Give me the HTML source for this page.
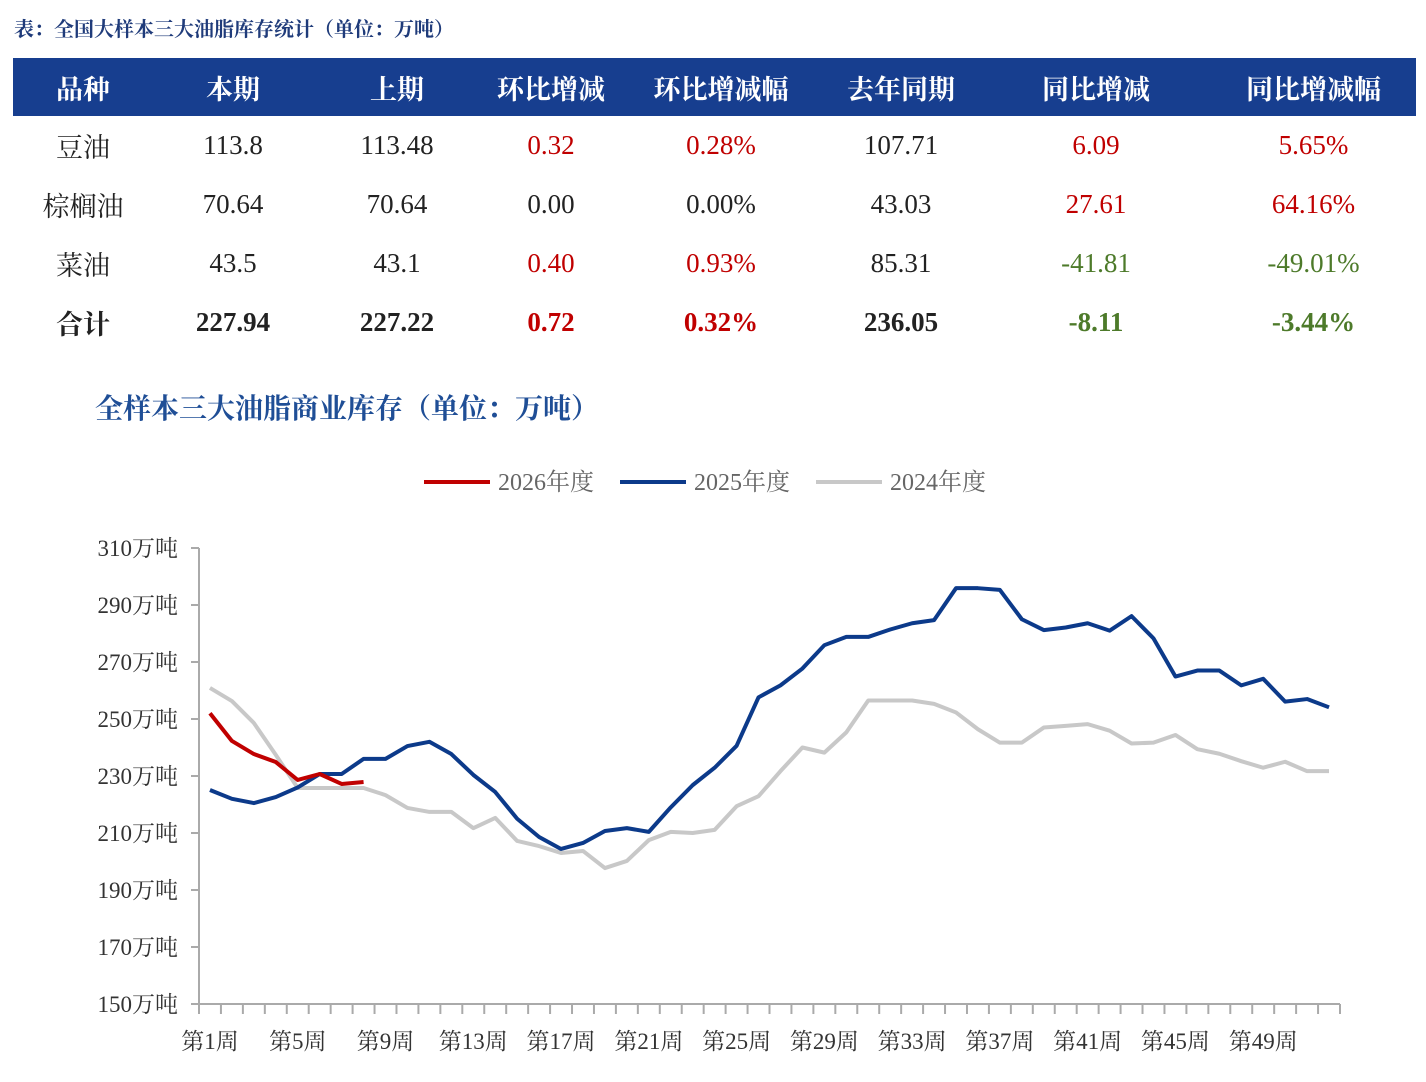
<!DOCTYPE html>
<html><head><meta charset="utf-8">
<style>
body{margin:0;background:#fff;width:1426px;height:1082px;overflow:hidden;font-family:"Liberation Serif","Noto Serif CJK SC",serif;}
.title{position:absolute;left:14px;top:13px;font-size:20px;font-weight:bold;color:#1f3b7a;}
table{position:absolute;left:13px;top:58px;width:1403px;border-collapse:collapse;}
th{background:#173e8f;color:#fff;font-size:27px;height:58px;padding:0;font-weight:bold;}
td{text-align:center;font-size:27px;height:59px;padding:0;color:#222;}
.r{color:#c00000}.g{color:#4d7a2a}
.tot td{font-weight:bold}
</style></head><body>
<div class="title">表：全国大样本三大油脂库存统计（单位：万吨）</div>
<table>
<colgroup><col style="width:140px"><col style="width:160px"><col style="width:168px"><col style="width:140px"><col style="width:200px"><col style="width:160px"><col style="width:230px"><col style="width:205px"></colgroup>
<tr><th>品种</th><th>本期</th><th>上期</th><th>环比增减</th><th>环比增减幅</th><th>去年同期</th><th>同比增减</th><th>同比增减幅</th></tr>
<tr><td>豆油</td><td>113.8</td><td>113.48</td><td class="r">0.32</td><td class="r">0.28%</td><td>107.71</td><td class="r">6.09</td><td class="r">5.65%</td></tr>
<tr><td>棕榈油</td><td>70.64</td><td>70.64</td><td>0.00</td><td>0.00%</td><td>43.03</td><td class="r">27.61</td><td class="r">64.16%</td></tr>
<tr><td>菜油</td><td>43.5</td><td>43.1</td><td class="r">0.40</td><td class="r">0.93%</td><td>85.31</td><td class="g">-41.81</td><td class="g">-49.01%</td></tr>
<tr class="tot"><td>合计</td><td>227.94</td><td>227.22</td><td class="r">0.72</td><td class="r">0.32%</td><td>236.05</td><td class="g">-8.11</td><td class="g">-3.44%</td></tr>
</table>
<svg id="chart" width="1426" height="1082" style="position:absolute;left:0;top:0"></svg>
<script>
const weeks=[];for(let i=1;i<=52;i++)weeks.push('第'+i+'周');
const yTicks=[150,170,190,210,230,250,270,290,310];
const s2026=[252,242.3,237.7,234.9,228.6,230.7,227.2,227.9];
const s2025=[225.1,222,220.5,222.6,226,230.7,230.7,236,236,240.5,242,237.7,230.4,224.4,215,208.6,204.4,206.5,210.7,211.7,210.4,219,226.8,232.9,240.6,257.6,261.8,267.7,275.9,278.8,278.8,281.4,283.6,284.7,295.9,295.9,295.3,285,281.2,282.1,283.6,281,286.1,278.3,264.9,267,267,261.8,264.1,256.1,257,254.1];
const s2024=[260.9,256.3,248.6,237.4,225.8,225.8,225.8,225.8,223.3,218.8,217.4,217.4,211.7,215.3,207.2,205.4,203,203.7,197.7,200.2,207.5,210.4,210,211.1,219.4,222.9,231.7,240,238.2,245.3,256.5,256.5,256.5,255.3,252.3,246.4,241.7,241.7,247,247.6,248.2,245.9,241.4,241.7,244.4,239.4,237.8,235.2,232.9,235,231.7,231.7];
const seriesNames=['2026年度','2025年度','2024年度'];
const seriesColors=['#c00000','#0c3a8a','#c8c8c8'];
const svg=document.getElementById('chart');const NS='http://www.w3.org/2000/svg';
const X0=199,W=1141,Y0=1004,YT=548;
const x=i=>X0+(i+0.5)*W/weeks.length;
const y=v=>Y0-(v-150)/(310-150)*(Y0-YT);
function mk(t,a,txt){const e=document.createElementNS(NS,t);for(const k in a)e.setAttribute(k,a[k]);if(txt!==undefined)e.textContent=txt;svg.appendChild(e);return e;}
let e;
e=mk('text',{x:95,y:418,'font-size':28,'font-weight':'bold',fill:'#1f4e96','font-family':'"Liberation Serif","Noto Serif CJK SC",serif'},'全样本三大油脂商业库存（单位：万吨）');


e=mk('line',{x1:X0,y1:YT,x2:X0,y2:Y0,stroke:'#aaa','stroke-width':2});


e=mk('line',{x1:X0,y1:Y0,x2:X0+W,y2:Y0,stroke:'#aaa','stroke-width':2});


yTicks.forEach(v=>{
 mk('line',{x1:X0-8,y1:y(v),x2:X0,y2:y(v),stroke:'#aaa','stroke-width':2});
 e=mk('text',{x:178,y:y(v)+8,'text-anchor':'end','font-size':23,fill:'#333'},v+'万吨');
 
 
});
for(let k=0;k<=weeks.length;k++)mk('line',{x1:X0+k*W/weeks.length,y1:Y0,x2:X0+k*W/weeks.length,y2:Y0+10,stroke:'#aaa','stroke-width':2});
weeks.forEach((w,i)=>{if(i%4===0){
 e=mk('text',{x:x(i),y:1049,'text-anchor':'middle','font-size':23,fill:'#333'},w);
 
 
}});
[s2024,s2025,s2026].forEach((s,j)=>{
 const idx=2-j;
 e=mk('polyline',{points:s.map((v,i)=>x(i)+','+y(v)).join(' '),fill:'none',stroke:seriesColors[idx],'stroke-width':4,'stroke-linejoin':'round'});
 
 
});
const lx=[424,620,816];
seriesNames.forEach((n,i)=>{
 mk('line',{x1:lx[i],y1:482,x2:lx[i]+66,y2:482,stroke:seriesColors[i],'stroke-width':4});
 e=mk('text',{x:lx[i]+74,y:490,'font-size':24,fill:'#666'},n);
 
 
});
</script>
</body></html>
